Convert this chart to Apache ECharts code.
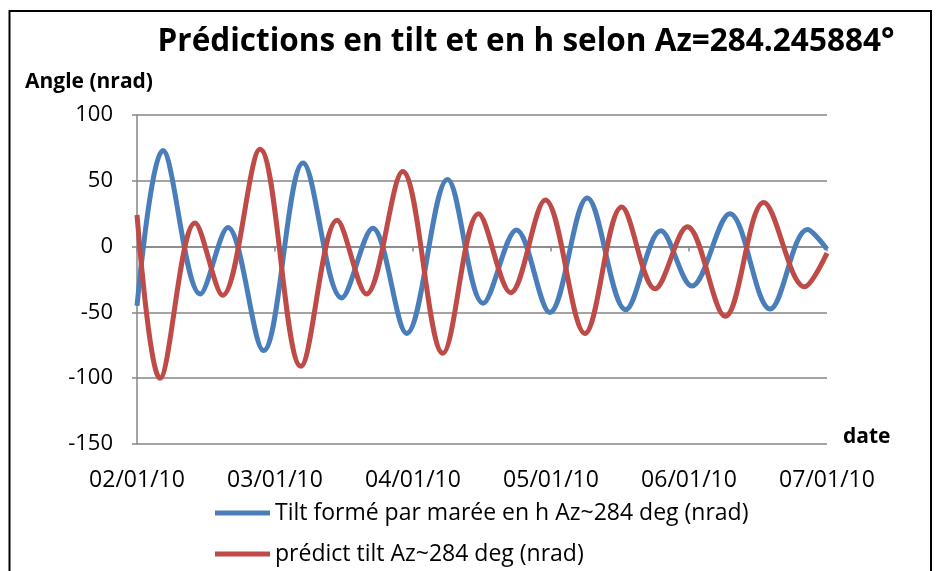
<!DOCTYPE html>
<html>
<head>
<meta charset="utf-8">
<script src="https://cdn.jsdelivr.net/npm/echarts@6/dist/echarts.min.js"></script>
<style>
  html, body { margin: 0; padding: 0; background: #fff; }
  #main { width: 948px; height: 571px; }
</style>
</head>
<body>
<div id="main"></div>
<script>
// dates on the x axis (one tick every 24 h)
var dateLabels = ['02/01/10', '03/01/10', '04/01/10', '05/01/10', '06/01/10', '07/01/10'];

// Tilt formé par marée en h : hours since 02/01/10 and value (nrad)
var tiltHours = [0, 4.5, 11.0, 15.8, 22.0, 28.9, 35.6, 41.0, 46.9, 54.0, 60.2, 66.0, 71.8, 78.3, 85.0, 91.1, 96.5, 103.1, 110.1, 116.6, 120];
var tiltValues = [-45, 73, -36, 14.5, -79, 63.5, -39, 14, -66, 51, -43, 12.7, -50, 37, -48, 12, -30, 25, -47.5, 13, -2];

// prédict tilt
var predHours = [0, 4.0, 10.1, 14.9, 21.4, 28.5, 34.8, 39.9, 46.2, 53.2, 59.4, 65.0, 71.0, 77.9, 84.3, 90.1, 95.7, 102.3, 109.0, 116.1, 120];
var predValues = [24, -100, 18, -37, 74, -91, 20, -36, 57, -81, 25, -35, 35.5, -66, 30, -32, 15, -53, 33.5, -30.5, -5];

var seriesNames = ['Tilt formé par marée en h Az~284 deg (nrad)', 'prédict tilt Az~284 deg (nrad)'];

function pairs(xs, ys) {
	var out = [];
	for (var i = 0; i < xs.length; i++) {
		out.push([xs[i], ys[i]]);
	}
	return out;
}

var font = '"Open Sans", sans-serif';
var gridColor = '#868686';

var myChart = echarts.init(document.getElementById('main'));
var option = {
	animation: false,
	textStyle: { fontFamily: font, color: '#000' },
	title: {
		text: 'Prédictions en tilt et en h selon Az=284.245884°',
		left: 521,
		top: 21,
		textAlign: 'center',
		textStyle: { fontFamily: font, fontSize: 31.5, fontWeight: 'bold', color: '#000' }
	},
	graphic: [
		{ type: 'rect', shape: { x: 9.5, y: 11, width: 921.5, height: 580 },
		  style: { fill: 'none', stroke: '#000', lineWidth: 2 } },
		{ type: 'text', left: 25, top: 72,
		  style: { text: 'Angle (nrad)', font: 'bold 21px ' + font, fill: '#000' } },
		{ type: 'text', left: 843, top: 427,
		  style: { text: 'date', font: 'bold 21px ' + font, fill: '#000' } }
	],
	legend: {
		orient: 'vertical',
		left: 215,
		top: 500,
		padding: 0,
		itemWidth: 55,
		itemHeight: 5,
		itemGap: 15,
		icon: 'rect',
		textStyle: { fontFamily: font, fontSize: 23, color: '#000', lineHeight: 26 },
		data: seriesNames
	},
	grid: { left: 137, right: 121, top: 115, bottom: 127 },
	xAxis: [{
		type: 'value',
		min: 0, max: 120, interval: 24,
		axisLine: { show: false, onZero: false },
		axisTick: { show: false },
		splitLine: { show: false },
		axisLabel: {
			margin: 25,
			fontSize: 23,
			color: '#000',
			formatter: function (v) { return dateLabels[Math.round(v / 24)]; }
		}
	}, {
		type: 'value',
		position: 'top',
		min: 0, max: 120, interval: 24,
		axisLine: { show: true, onZero: true, lineStyle: { color: gridColor, width: 1.5 } },
		axisTick: { show: true, inside: true, length: 5, lineStyle: { color: gridColor, width: 1.5 } },
		axisLabel: { show: false },
		splitLine: { show: false }
	}],
	yAxis: {
		type: 'value',
		min: -150, max: 100, interval: 50,
		axisLine: { show: true, lineStyle: { color: gridColor, width: 1.5 } },
		axisTick: { show: true, length: 5, lineStyle: { color: gridColor, width: 1.5 } },
		axisLabel: { fontSize: 22, color: '#000', margin: 24 },
		splitLine: { lineStyle: { color: gridColor, width: 1.5 } }
	},
	series: [{
		name: seriesNames[0],
		type: 'line',
		xAxisIndex: 0,
		smooth: 0.35,
		showSymbol: false,
		itemStyle: { color: '#4A7EBB' },
		lineStyle: { color: '#4A7EBB', width: 5 },
		data: pairs(tiltHours, tiltValues)
	}, {
		name: seriesNames[1],
		type: 'line',
		xAxisIndex: 0,
		smooth: 0.35,
		showSymbol: false,
		itemStyle: { color: '#BE4B48' },
		lineStyle: { color: '#BE4B48', width: 5 },
		data: pairs(predHours, predValues)
	}]
};
myChart.setOption(option);
</script>
</body>
</html>
